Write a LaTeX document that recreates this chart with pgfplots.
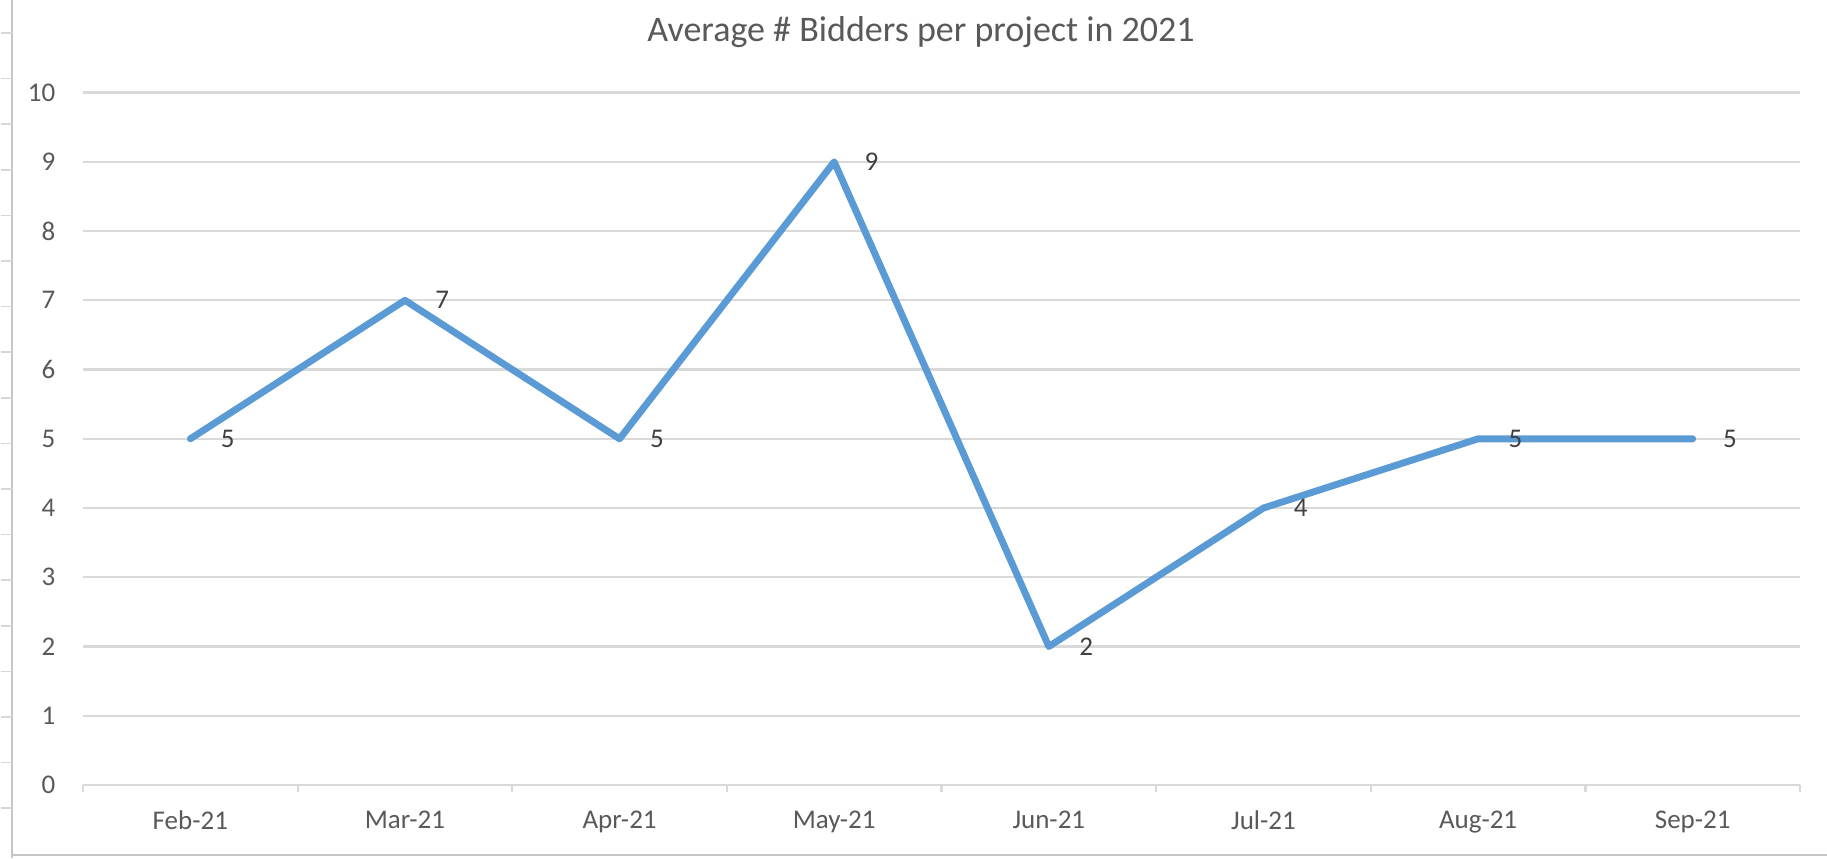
\documentclass[border=0pt]{standalone}
\usepackage{pgfplots}
\pgfplotsset{compat=1.18}
\usepackage{fontspec}
\setmainfont{Carlito}
\definecolor{xlblue}{HTML}{5B9BD5}
\definecolor{xlgrid}{HTML}{D9D9D9}
\definecolor{xltick}{HTML}{595959}
\definecolor{xllab}{HTML}{404040}
\definecolor{xlsheet}{HTML}{C6C6C6}
\begin{document}
\begin{tikzpicture}
\begin{axis}[
  name=ax,
  at={(27.67pt,24.33pt)}, anchor=south west,
  scale only axis, width=572.33pt, height=230.8pt,
  xmin=-0.5, xmax=7.5, ymin=0, ymax=10,
  xtick={0,...,7},
  xticklabels={Feb-21,Mar-21,Apr-21,May-21,Jun-21,Jul-21,Aug-21,Sep-21},
  minor xtick={-0.5,0.5,...,7.5},
  ytick={0,...,10},
  major tick length=0pt,
  minor tick length=2.4pt,
  tick align=outside,
  minor tick style={xlgrid, line width=0.75pt},
  xtick pos=bottom, ytick pos=left,
  axis x line*=bottom, axis y line*=left,
  x axis line style={xlgrid, line width=0.75pt, -},
  y axis line style={draw=none},
  ymajorgrids, major grid style={xlgrid, line width=0.75pt},
  /pgf/number format/assume math mode=true,
  tick label style={font=\fontsize{9}{11}\selectfont, text=xltick},
  yticklabel style={anchor=east, xshift=-5.7pt},
  xticklabel style={anchor=north, yshift=-5pt},
  nodes near coords,
  nodes near coords style={anchor=west, inner sep=0pt, xshift=9pt,
    font=\fontsize{9}{11}\selectfont, text=xllab},
  clip=false,
]
\addplot[xlblue, line width=2.3pt, line join=round, line cap=round, mark=none]
  coordinates {(0,5) (1,7) (2,5) (3,9) (4,2) (5,4) (6,5) (7,5)};
\end{axis}
% title
\node[anchor=base, font=\fontsize{12}{14}\selectfont, text=xltick]
  at (307pt,272pt) {Average \# Bidders per project in 2021};
% spreadsheet border artefacts
\draw[xlsheet, line width=0.7pt] (4pt,0pt) -- (4pt,286pt);
\draw[xlsheet, line width=0.7pt] (4pt,1pt) -- (609pt,1pt);
\foreach \k in {0,...,17} {
  \draw[xlsheet!70, line width=0.5pt] (0.3pt,{275pt-\k*15.2pt}) -- (4pt,{275pt-\k*15.2pt});
}
\pgfresetboundingbox
\path[use as bounding box] (0,0) rectangle (609pt,286pt);
\end{tikzpicture}
\end{document}
